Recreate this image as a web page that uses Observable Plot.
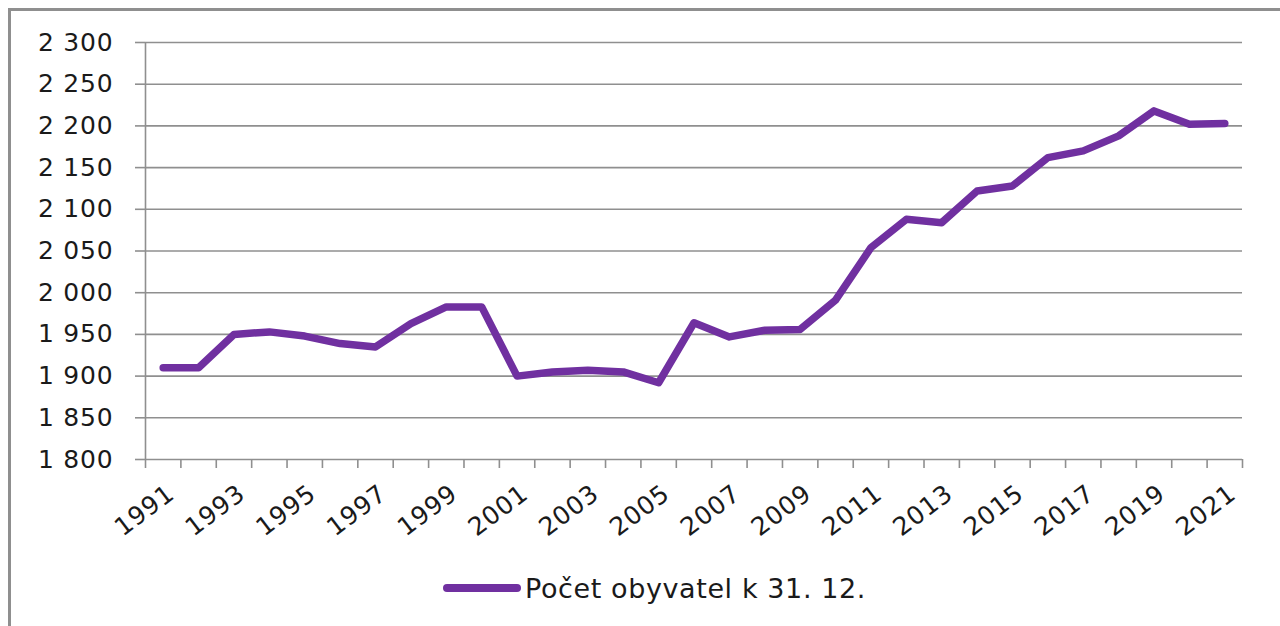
<!DOCTYPE html>
<html>
<head>
<meta charset="utf-8">
<script src="https://cdn.jsdelivr.net/npm/d3@7"></script>
<script src="https://cdn.jsdelivr.net/npm/@observablehq/plot@0.6"></script>
<style>
  html, body { margin: 0; padding: 0; background: #fff; overflow: hidden; }
  #wrap { position: relative; width: 1280px; height: 626px; font-family: "DejaVu Sans", sans-serif; }
  #frame { position: absolute; left: 8px; top: 8px; width: 1300px; height: 700px; border: 3px solid #8f8f8f; box-sizing: border-box; }
  #chart { position: absolute; left: 0; top: 0; }
  #legend { position: absolute; left: 0; top: 560px; width: 1280px; height: 56px; display: flex; align-items: center; }
  #legend .sw { margin-left: 443px; width: 78px; height: 8px; border-radius: 4px; background: #7030A0; }
  #legend .lb { margin-left: 4px; font-size: 27px; color: #1a1a1a; letter-spacing: 0.6px; }
</style>
</head>
<body>
<div id="wrap">
  <div id="frame"></div>
  <div id="chart"></div>
  <div id="legend"><span class="sw"></span><span class="lb"></span></div>
</div>
<script>
const years = [1991,1992,1993,1994,1995,1996,1997,1998,1999,2000,2001,2002,2003,2004,2005,2006,2007,2008,2009,2010,2011,2012,2013,2014,2015,2016,2017,2018,2019,2020,2021];
const population = [1910,1910,1950,1953,1948,1939,1935,1963,1983,1983,1900,1905,1907,1905,1892,1964,1947,1955,1956,1991,2054,2088,2084,2122,2128,2162,2170,2188,2218,2202,2203];
const yTicks = [1800,1850,1900,1950,2000,2050,2100,2150,2200,2250,2300];
const labelYears = [1991,1993,1995,1997,1999,2001,2003,2005,2007,2009,2011,2013,2015,2017,2019,2021];
const seriesName = "Počet obyvatel k 31. 12.";

const data = years.map((y, i) => ({year: y, value: population[i]}));
const boundaries = years.map(y => y - 0.5).concat([years[years.length - 1] + 0.5]);
const fmt = d => d3.format(",")(d).replace(/,/g, " ");
const gray = "#8f8f8f";

const chart = Plot.plot({
  width: 1280,
  height: 560,
  marginLeft: 145,
  marginRight: 38,
  marginTop: 42,
  marginBottom: 101,
  style: {fontFamily: "DejaVu Sans, sans-serif", background: "transparent", overflow: "visible"},
  x: {type: "linear", domain: [boundaries[0], boundaries[boundaries.length - 1]]},
  y: {domain: [1800, 2300]},
  marks: [
    Plot.gridY(yTicks, {stroke: gray, strokeOpacity: 1, strokeWidth: 1.6}),
    Plot.ruleX([boundaries[0]], {stroke: gray, strokeWidth: 1.6}),
    Plot.axisY(yTicks, {tickSize: 10, tickPadding: 22, tickFormat: fmt, stroke: gray, strokeWidth: 1.6, fill: "#1a1a1a", fontSize: 25, label: null}),
    Plot.axisX(boundaries, {tickSize: 9, tickFormat: () => "", stroke: gray, strokeWidth: 1.6, label: null}),
    Plot.axisX(labelYears, {tickSize: 0, tickRotate: -37, tickPadding: 0, tickFormat: d => String(d), fill: "#1a1a1a", fontSize: 25, label: null, dx: 8, dy: 31}),
    Plot.line(data, {x: "year", y: "value", stroke: "#7030A0", strokeWidth: 7.5, strokeLinejoin: "round", strokeLinecap: "round"})
  ]
});
chart.querySelectorAll("text").forEach(t => t.style.letterSpacing = "0.8px");
document.getElementById("chart").appendChild(chart);
document.querySelector("#legend .lb").textContent = seriesName;
</script>
</body>
</html>
